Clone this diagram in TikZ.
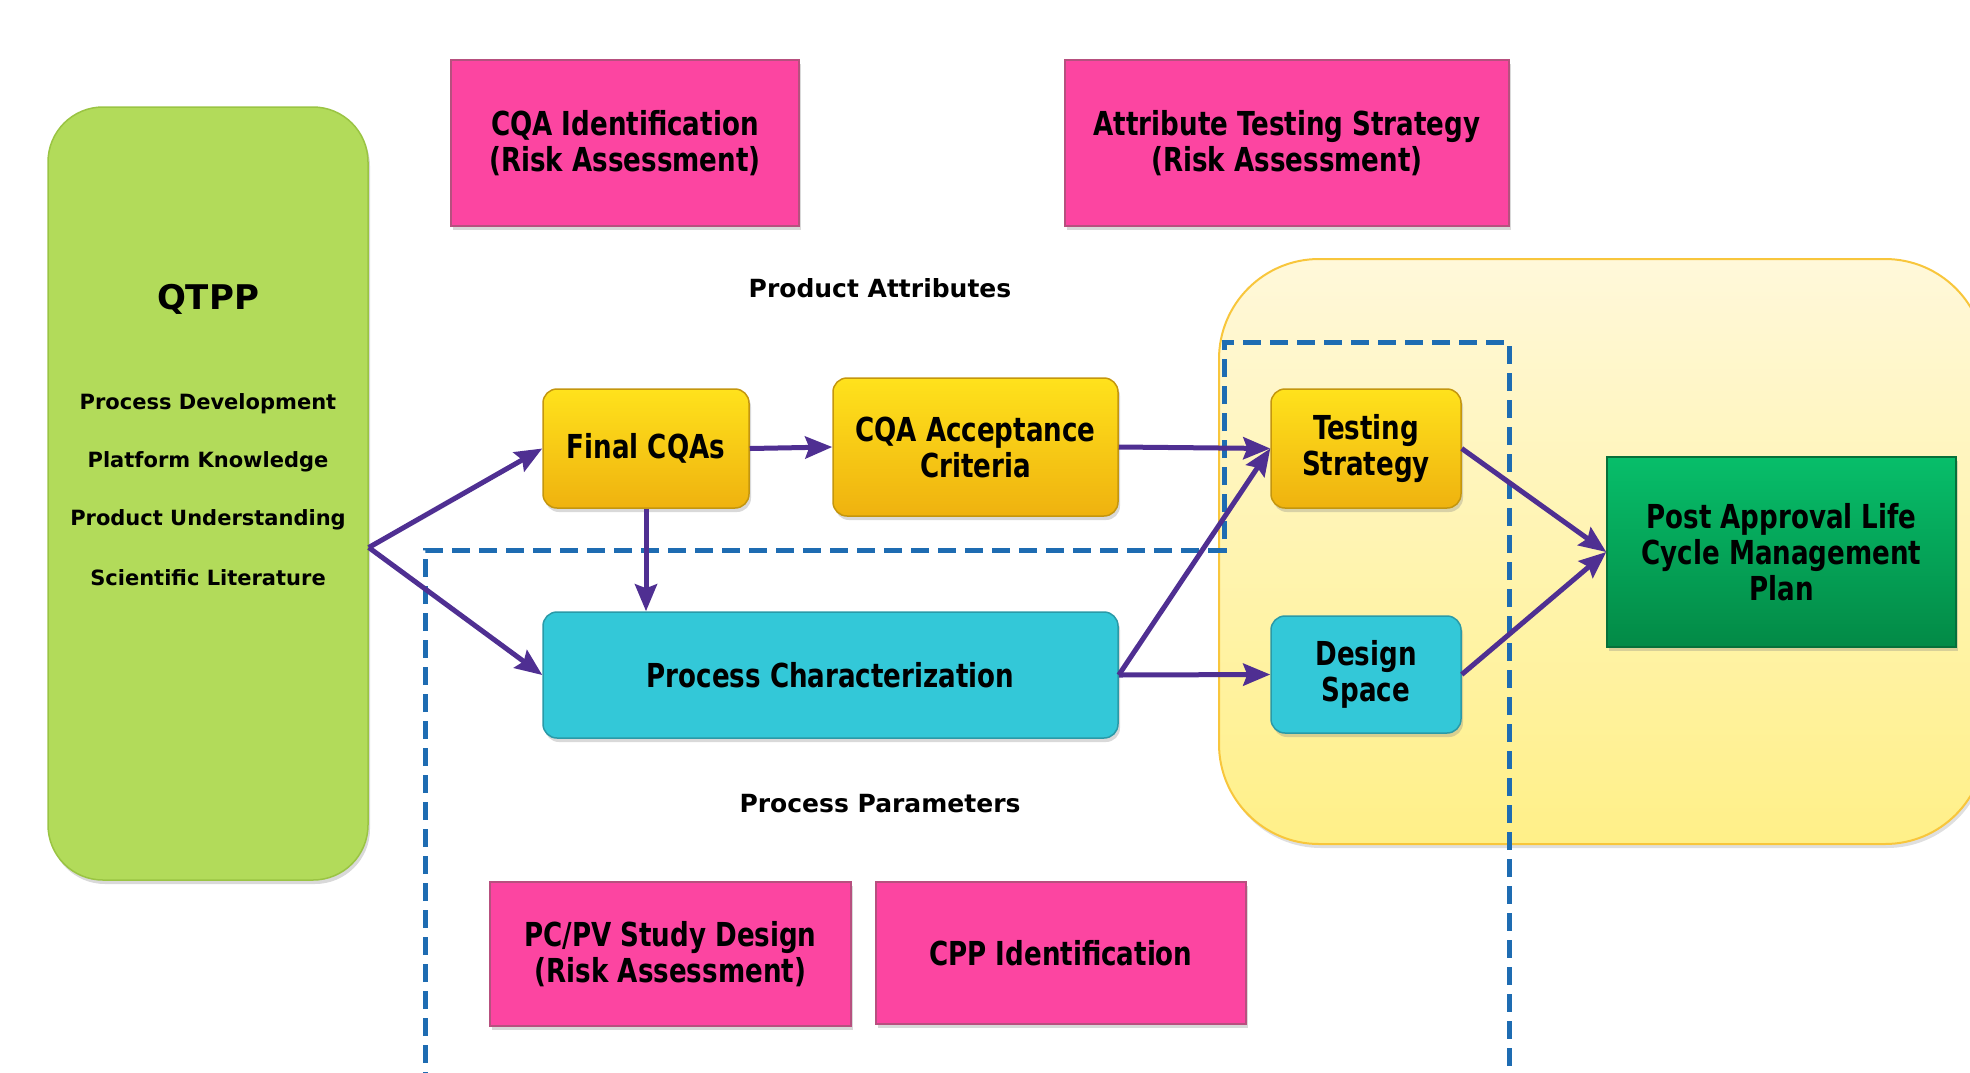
\documentclass[tikz,border=0pt]{standalone}
\usepackage{fontspec}
\setmainfont{DejaVu Sans}
\newfontfamily\narrowfont{DejaVu Sans Condensed}[FakeStretch=0.88]
\usepackage{xcolor}
\usepackage{tikz}
\usetikzlibrary{arrows.meta,shadows}
\definecolor{pinkfill}{HTML}{FC45A1}
\definecolor{pinkedge}{HTML}{B7507F}
\definecolor{goldtop}{HTML}{FFE21C}
\definecolor{goldbottom}{HTML}{EFB20F}
\definecolor{goldedge}{HTML}{C4960E}
\definecolor{cyanfill}{HTML}{33C8D8}
\definecolor{cyanedge}{HTML}{2A9AA8}
\definecolor{greentop}{HTML}{07BE6A}
\definecolor{greenbottom}{HTML}{038A46}
\definecolor{greenedge}{HTML}{06703A}
\definecolor{qtppfill}{HTML}{B2DB5A}
\definecolor{qtppedge}{HTML}{9AC443}
\definecolor{regiontop}{HTML}{FFF8DA}
\definecolor{regionbottom}{HTML}{FFF088}
\definecolor{regionedge}{HTML}{F8C63C}
\definecolor{dashblue}{HTML}{1E6CB2}
\definecolor{flowpurple}{HTML}{4F2F92}
\tikzset{
  box/.style={draw, line width=1.5pt, align=center, inner sep=0pt,
    font={\narrowfont\bfseries\fontsize{33}{36}\selectfont},
    drop shadow={opacity=0.3, shadow xshift=2pt, shadow yshift=-4pt}},
  pinkbox/.style={box, fill=pinkfill, draw=pinkedge},
  goldbox/.style={box, rounded corners=14pt, top color=goldtop, bottom color=goldbottom, draw=goldedge},
  cyanbox/.style={box, rounded corners=14pt, fill=cyanfill, draw=cyanedge},
  greenbox/.style={box, top color=greentop, bottom color=greenbottom, draw=greenedge},
  caption/.style={font={\bfseries\fontsize{25}{30}\selectfont}},
  qtppline/.style={font={\bfseries\fontsize{21}{25}\selectfont}},
  flow/.style={draw=flowpurple, line width=5pt, -{Stealth[length=27pt,width=22pt,inset=4pt]}},
  scopeline/.style={draw=dashblue, line width=5pt, dash pattern=on 18pt off 9pt}
}
\begin{document}
\begin{tikzpicture}[x=1pt,y=-1pt]
	\useasboundingbox (0,0) rectangle (1970,1072);
	\clip (0,0) rectangle (1970,1072);
	\draw[draw=regionedge, line width=2pt, rounded corners=100pt, top color=regiontop, bottom color=regionbottom,
		drop shadow={opacity=0.25, shadow xshift=2pt, shadow yshift=-4pt}] (1219,259) rectangle (1985,844);
	\draw[scopeline] (425,1090) -- (425,550) -- (1224,550) -- (1224,342) -- (1509,342) -- (1509,1090);

	\node[draw=qtppedge, line width=1.5pt, fill=qtppfill, rounded corners=55pt, minimum width=320pt, minimum height=773pt,
		drop shadow={opacity=0.3, shadow xshift=2pt, shadow yshift=-4pt}] (qtpp) at (208,493.5) {};
	\node[font={\bfseries\fontsize{34}{40}\selectfont}] (qtpptitle) at (208,299) {QTPP};
	\foreach \t [count=\i] in {Process Development, Platform Knowledge, Product Understanding, Scientific Literature}
		\node[qtppline] (qtppline\i) at (208,{404+58*(\i-1)}) {\t};

	\node[pinkbox, minimum width=348pt, minimum height=166pt] (cqaid) at (625,143) {CQA Identification\\(Risk Assessment)};
	\node[pinkbox, minimum width=444pt, minimum height=166pt] (attrtest) at (1287,143) {Attribute Testing Strategy\\(Risk Assessment)};
	\node[pinkbox, minimum width=361pt, minimum height=144pt] (pcpv) at (670.5,954) {PC/PV Study Design\\(Risk Assessment)};
	\node[pinkbox, minimum width=370pt, minimum height=142pt] (cppid) at (1061,953) {CPP Identification};

	\node[caption] (prodattr) at (880,288) {Product Attributes};
	\node[caption] (procparam) at (880,804) {Process Parameters};

	\node[goldbox, minimum width=206pt, minimum height=119pt] (finalcqa) at (646,448.5) {Final CQAs};
	\node[goldbox, minimum width=285pt, minimum height=138pt] (cqaacc) at (975.5,447) {CQA Acceptance\\Criteria};
	\node[goldbox, minimum width=190pt, minimum height=119pt] (testing) at (1366,448.5) {Testing\\Strategy};
	\node[cyanbox, minimum width=575pt, minimum height=126pt] (procchar) at (830.5,675) {Process Characterization};
	\node[cyanbox, minimum width=190pt, minimum height=117pt] (design) at (1366,674.5) {Design\\Space};
	\node[greenbox, minimum width=349pt, minimum height=190pt] (postappr) at (1781.5,552) {Post Approval Life\\Cycle Management\\Plan};

	\coordinate (qtppout) at ([yshift=-54pt]qtpp.east);
	\draw[flow] (qtppout) -- (finalcqa.west);
	\draw[flow] (qtppout) -- (procchar.west);
	\draw[flow] (finalcqa.east) -- (cqaacc.west);
	\draw[flow] (finalcqa.south) -- (finalcqa.south |- procchar.north);
	\draw[flow] (cqaacc.east) -- (testing.west);
	\draw[flow] (procchar.east) -- (testing.west);
	\draw[flow] (procchar.east) -- (design.west);
	\draw[flow] (testing.east) -- (postappr.west);
	\draw[flow] (design.east) -- (postappr.west);
\end{tikzpicture}
\end{document}
